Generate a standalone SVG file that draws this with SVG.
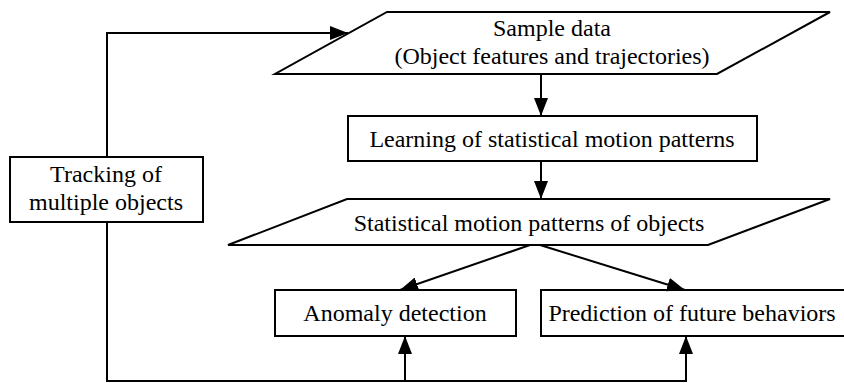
<svg xmlns="http://www.w3.org/2000/svg" width="844" height="383" viewBox="0 0 844 383">
<style>
.s{fill:#fff;stroke:#000;stroke-width:2}
.t{font-family:"Liberation Serif","Times New Roman",serif;font-size:24px;fill:#000;text-anchor:middle}
.c{fill:none;stroke:#000;stroke-width:2}
</style>
<defs>
<marker id="a" viewBox="0 0 18 14" refX="18" refY="7" markerWidth="18" markerHeight="14" markerUnits="userSpaceOnUse" orient="auto">
<path d="M0,0 L18,7 L0,14 z" fill="#000"/>
</marker>
</defs>
<rect width="844" height="383" fill="#fff"/>
<g id="sample">
<polygon class="s" points="387,12 830,12 717,74 275,74"/>
<text class="t" x="552" y="36">Sample data</text>
<text class="t" x="552" y="64">(Object features and trajectories)</text>
</g>
<g id="learning">
<rect class="s" x="348" y="116" width="409" height="45"/>
<text class="t" x="552" y="147">Learning of statistical motion patterns</text>
</g>
<g id="patterns">
<polygon class="s" points="347,199 830,199 708,245 228,245"/>
<text class="t" x="529" y="231">Statistical motion patterns of objects</text>
</g>
<g id="tracking">
<rect class="s" x="10" y="157" width="193" height="65"/>
<text class="t" x="106" y="182">Tracking of</text>
<text class="t" x="106" y="210">multiple objects</text>
</g>
<g id="anomaly">
<rect class="s" x="275" y="290" width="241" height="46"/>
<text class="t" x="395" y="321">Anomaly detection</text>
</g>
<g id="prediction">
<rect class="s" x="541" y="290" width="306" height="46"/>
<text class="t" x="692" y="321">Prediction of future behaviors</text>
</g>
<g id="connectors">
<polyline class="c" points="107,157 107,33 348,33" marker-end="url(#a)"/>
<line class="c" x1="541" y1="74" x2="541" y2="116" marker-end="url(#a)"/>
<line class="c" x1="541" y1="161" x2="541" y2="199" marker-end="url(#a)"/>
<line class="c" x1="530" y1="245" x2="400" y2="290" marker-end="url(#a)"/>
<line class="c" x1="540" y1="245" x2="685" y2="290" marker-end="url(#a)"/>
<polyline class="c" points="107,222 107,381 686,381 686,336" marker-end="url(#a)"/>
<line class="c" x1="405" y1="381" x2="405" y2="336" marker-end="url(#a)"/>
</g>
</svg>
